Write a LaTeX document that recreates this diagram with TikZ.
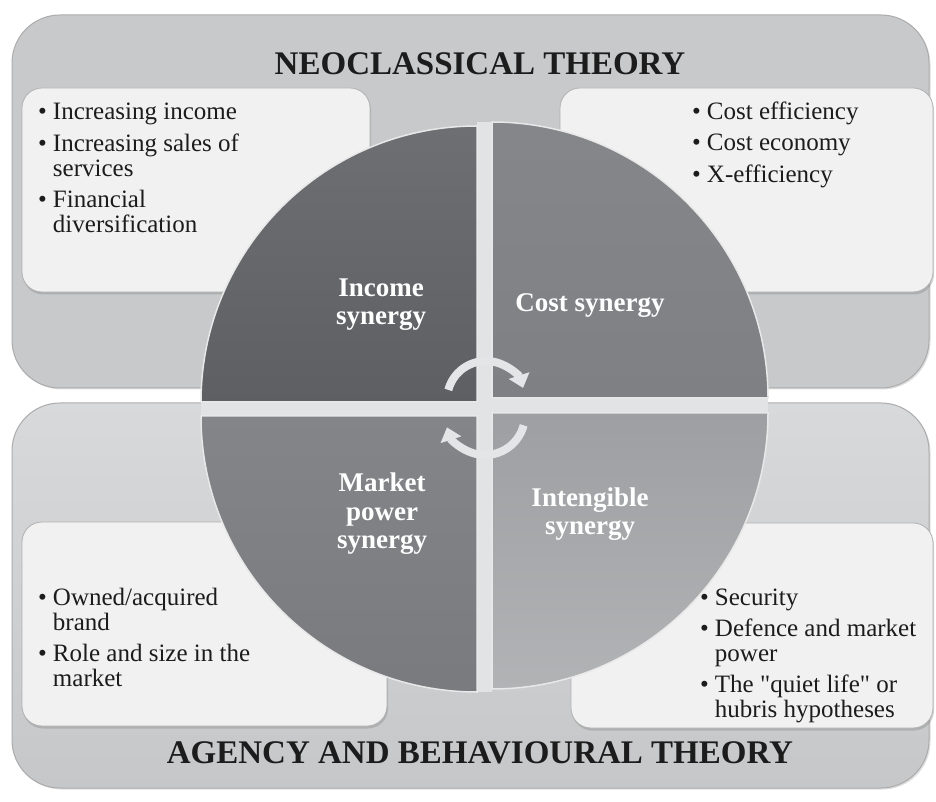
\documentclass[tikz,border=0pt]{standalone}
\usepackage{fontspec}
\setmainfont{Liberation Serif}
\newfontfamily\rawquotes[Ligatures=TeXOff]{Liberation Serif}
\usetikzlibrary{arrows.meta,shadows}
\definecolor{outertopc}{RGB}{200,201,203}
\definecolor{outerbtop}{RGB}{216,217,219}
\definecolor{outerbbot}{RGB}{198,199,201}
\definecolor{innerfill}{RGB}{241,241,241}
\definecolor{qtl}{RGB}{94,95,99}
\definecolor{qtr}{RGB}{127,128,132}
\definecolor{qbl}{RGB}{132,133,137}
\definecolor{qbrtop}{RGB}{158,159,162}
\definecolor{qbrbot}{RGB}{178,179,181}
\definecolor{gapc}{RGB}{226,227,229}
\definecolor{arrowc}{RGB}{228,229,231}
\definecolor{textdark}{RGB}{28,28,28}
\tikzset{
  outerbox/.style={draw=gray!65, line width=1pt, rounded corners=48pt,
    drop shadow={shadow xshift=1.5pt, shadow yshift=-1.5pt, opacity=0.25}},
  innerbox/.style={draw=gray!60, line width=0.8pt, fill=innerfill, rounded corners=20pt,
    drop shadow={shadow xshift=1pt, shadow yshift=-2.5pt, opacity=0.35}},
  quadrant/.style={draw=white!82!gray, line width=1.5pt},
  qlabel/.style={text=white, font=\fontsize{27}{28}\selectfont\bfseries, inner sep=0pt, anchor=base},
  bullets/.style={text=textdark, font=\fontsize{25}{25}\selectfont, inner sep=0pt, anchor=base west},
  titletext/.style={text=textdark, font=\fontsize{33}{36}\selectfont\bfseries, inner sep=0pt, anchor=base},
  cyclearrow/.style={line width=8pt, draw=arrowc, -{Triangle[width=21pt,length=13pt]}},
}
\begin{document}
\begin{tikzpicture}[x=1pt,y=1pt]
\fill[white] (0,0) rectangle (936,801);
\useasboundingbox (0,0) rectangle (936,801);

% outer boxes
\path[outerbox, fill=outertopc] (12,413) rectangle (929,786);
\path[outerbox, top color=outerbtop, bottom color=outerbbot] (12,13) rectangle (929,398);

% titles
\node[titletext] (ttop) at (480,726) {NEOCLASSICAL THEORY};
\node[titletext] (tbot) at (480,38) {AGENCY AND BEHAVIOURAL THEORY};

% inner boxes
\path[innerbox] (22,509) rectangle (370,713);
\path[innerbox] (560,509) rectangle (933,713);
\path[innerbox] (22,75) rectangle (387,279);
\path[innerbox] (571,73) rectangle (933,278);

% gap cross
\fill[gapc] (477,109) rectangle (492,679);
\fill[gapc] (201,385) rectangle (768,403);

% quadrants
\path[quadrant, top color=qtl!90!white, bottom color=qtl] (477,399) -- ++(-276,0) arc[start angle=180, end angle=90, radius=276] -- cycle;
\path[quadrant, top color=qtr!95!white, bottom color=qtr] (492,403) -- ++(0,276) arc[start angle=90, end angle=0, radius=276] -- cycle;
\path[quadrant, top color=qbl, bottom color=qbl!92!black] (477,385) -- ++(0,-276) arc[start angle=270, end angle=180, radius=276] -- cycle;
\path[quadrant, top color=qbrtop, bottom color=qbrbot] (492,388) -- ++(276,0) arc[start angle=0, end angle=-90, radius=276] -- cycle;

% cycle arrows
\draw[cyclearrow] (486,401) ++(165:39) arc[start angle=165, end angle=18, radius=39];
\draw[cyclearrow] (485,386) ++(-15:40) arc[start angle=-15, end angle=-162, radius=40];

% quadrant labels
\node[qlabel] (income) at (381,504) {\begin{tabular}[t]{@{}c@{}}Income\\synergy\end{tabular}};
\node[qlabel] (cost) at (590,489) {Cost synergy};
\node[qlabel] (market) at (382,309) {\begin{tabular}[t]{@{}c@{}}Market\\power\\synergy\end{tabular}};
\node[qlabel] (intang) at (590,295) {\begin{tabular}[t]{@{}c@{}}Intengible\\synergy\end{tabular}};

% bullet lists
\node[bullets] (tllist) at (38,681) {\begin{tabular}[t]{@{}l@{\hspace{6pt}}l@{}}
\textbullet & Increasing income\\[6pt]
\textbullet & Increasing sales of\\
 & services\\[6pt]
\textbullet & Financial\\
 & diversification
\end{tabular}};
\node[bullets] (trlist) at (692,681) {\begin{tabular}[t]{@{}l@{\hspace{6pt}}l@{}}
\textbullet & Cost efficiency\\[6pt]
\textbullet & Cost economy\\[6pt]
\textbullet & X-efficiency
\end{tabular}};
\node[bullets] (bllist) at (38,196) {\begin{tabular}[t]{@{}l@{\hspace{6pt}}l@{}}
\textbullet & Owned/acquired\\
 & brand\\[6pt]
\textbullet & Role and size in the\\
 & market
\end{tabular}};
\node[bullets] (brlist) at (700,196) {\begin{tabular}[t]{@{}l@{\hspace{6pt}}l@{}}
\textbullet & Security\\[6pt]
\textbullet & Defence and market\\
 & power\\[6pt]
\textbullet & {\rawquotes The "quiet life" or}\\
 & hubris hypotheses
\end{tabular}};
\end{tikzpicture}
\end{document}
